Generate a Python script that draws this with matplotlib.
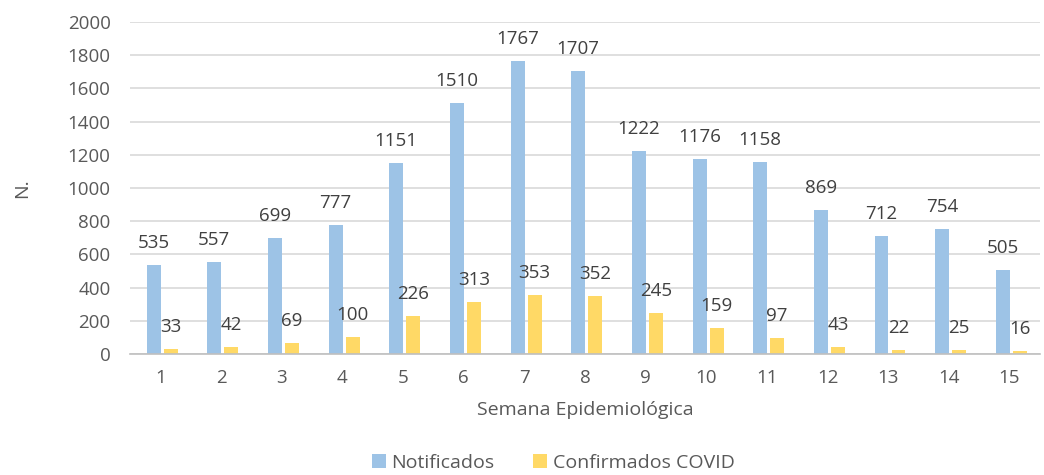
import numpy as np
import matplotlib
matplotlib.use("Agg")
import matplotlib.pyplot as plt

plt.rcParams['font.family'] = ['Open Sans', 'DejaVu Sans']

semanas = [str(i) for i in range(1, 16)]
notificados = [535, 557, 699, 777, 1151, 1510, 1767, 1707, 1222, 1176, 1158, 869, 712, 754, 505]
confirmados = [33, 42, 69, 100, 226, 313, 353, 352, 245, 159, 97, 43, 22, 25, 16]

txt = '#595959'
fig = plt.figure(figsize=(10.44, 4.75), dpi=100)
ax = fig.add_axes([0.1245, 0.2547, 0.8715, 0.699])

x = np.arange(len(semanas))
w = 0.23
gap = 0.05
b1 = ax.bar(x - (w + gap) / 2 + 0.03, notificados, w, color='#9dc3e6', label='Notificados', zorder=2)
b2 = ax.bar(x + (w + gap) / 2 + 0.03, confirmados, w, color='#ffd966', label='Confirmados COVID', zorder=2)

for bars, vals in ((b1, notificados), (b2, confirmados)):
    for r, v in zip(bars, vals):
        ax.annotate(str(v), (r.get_x() + r.get_width() / 2, v), xytext=(0, 13),
                    textcoords='offset pixels', ha='center', va='bottom',
                    fontsize=13.5, color='#404040')

ax.set_ylim(0, 2000)
ax.set_xlim(-0.5, len(semanas) - 0.5)
ax.set_yticks(range(0, 2001, 200))
ax.set_xticks(x)
ax.set_xticklabels(semanas)
ax.tick_params(length=0, labelsize=13.5, colors=txt)
ax.tick_params(axis='x', pad=11)
ax.tick_params(axis='y', pad=14)
ax.grid(axis='y', color='#d9d9d9', linewidth=1.2, zorder=0)
for s in ['top', 'right', 'left']:
    ax.spines[s].set_visible(False)
ax.spines['bottom'].set_color('#bfbfbf')
ax.spines['bottom'].set_linewidth(1.2)

ax.set_xlabel('Semana Epidemiológica', fontsize=14, color=txt, labelpad=10)
ax.set_ylabel('N.', fontsize=14, color=txt, labelpad=26)

fig.legend(loc='lower center', bbox_to_anchor=(0.53, -0.03), ncol=2, frameon=False,
           fontsize=14, labelcolor=txt, handlelength=0.7, handleheight=0.7,
           handletextpad=0.3, columnspacing=2.0)

fig.savefig('out.png', dpi=100)
